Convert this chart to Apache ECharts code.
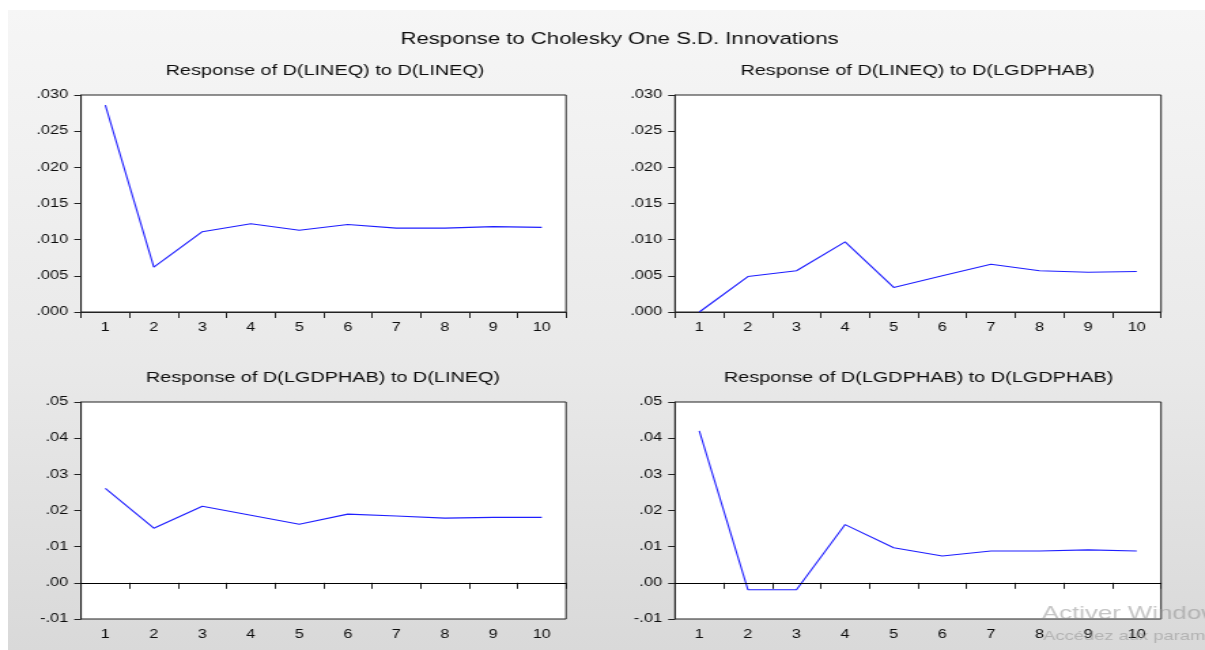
<!DOCTYPE html>
<html>
<head>
<meta charset="utf-8">
<script src="https://cdn.jsdelivr.net/npm/echarts@6/dist/echarts.min.js"></script>
<style>
  html, body { margin: 0; padding: 0; background: #fff; overflow: hidden; }
  #bg {
    position: absolute; left: 8px; top: 10px; right: 0; bottom: 0;
    background: linear-gradient(#f6f6f6, #e9e9e9 55%, #d9d9d9);
  }
  /* the source picture is stretched sideways, so draw narrow and scale x */
  #chart {
    position: absolute; left: 0; top: 0;
    width: 886px; height: 650px;
    transform: scaleX(1.36); transform-origin: 0 0;
  }
</style>
</head>
<body>
<div id="bg"></div>
<div id="chart"></div>
<script>
// periods after the shock
const periods = ['1', '2', '3', '4', '5', '6', '7', '8', '9', '10']

// responses
const lineqToLineq = [0.0286, 0.0062, 0.0111, 0.0122, 0.0113, 0.0121, 0.0116, 0.0116, 0.0118, 0.0117]
const lineqToLgdphab = [0.0000, 0.0049, 0.0057, 0.0097, 0.0034, 0.0050, 0.0066, 0.0057, 0.0055, 0.0056]
const lgdphabToLineq = [0.0261, 0.0151, 0.0212, 0.0187, 0.0162, 0.0190, 0.0185, 0.0179, 0.0181, 0.0181]
const lgdphabToLgdphab = [0.0420, -0.0019, -0.0019, 0.0161, 0.0097, 0.0074, 0.0088, 0.0088, 0.0091, 0.0088]

const mainTitle = 'Response to Cholesky One S.D. Innovations'
const panelTitles = [
  'Response of D(LINEQ) to D(LINEQ)',
  'Response of D(LINEQ) to D(LGDPHAB)',
  'Response of D(LGDPHAB) to D(LINEQ)',
  'Response of D(LGDPHAB) to D(LGDPHAB)'
]

// y axis [min, max, step, decimals]
const topAxis = [0, 0.03, 0.005, 3]
const bottomAxis = [-0.01, 0.05, 0.01, 2]

const font = "'Liberation Sans', Arial, sans-serif"
const ink = '#0d0d0d'

let chart = echarts.init(document.getElementById('chart'), null, { renderer: 'canvas' })

let panels = [
  { data: lineqToLineq, axis: topAxis, left: 59.6, top: 95, width: 356.6, tx: 239, ty: 71 },
  { data: lineqToLgdphab, axis: topAxis, left: 496.3, top: 95, width: 357.4, tx: 674.6, ty: 71 },
  { data: lgdphabToLineq, axis: bottomAxis, left: 59.6, top: 402, width: 356.6, tx: 237.5, ty: 378 },
  { data: lgdphabToLgdphab, axis: bottomAxis, left: 496.3, top: 402, width: 357.4, tx: 675.4, ty: 378 }
]

// EViews style labels: .030, -.01
function fmt (dec) {
  return v => v.toFixed(dec).replace(/^(-?)0\./, '$1.')
}

let grid = [], xAxis = [], yAxis = [], series = []
let graphic = [{
  type: 'text', x: 455.5, y: 39.5,
  style: { text: mainTitle, font: '16.3px ' + font, fill: ink, textAlign: 'center', textVerticalAlign: 'middle' }
}]

panels.forEach((p, i) => {
  grid.push({
    left: p.left, top: p.top, width: p.width, height: 217,
    show: true, backgroundColor: '#fff', borderColor: '#222', borderWidth: 1
  })
  xAxis.push({
    type: 'category', gridIndex: i, data: periods, boundaryGap: true,
    axisLine: { show: true, lineStyle: { color: '#222' } },
    axisTick: { show: true, length: 6, lineStyle: { color: '#222' } },
    axisLabel: { interval: 0, margin: 9.5, color: ink, fontSize: 12, fontFamily: font },
    splitLine: { show: false }
  })
  yAxis.push({
    type: 'value', gridIndex: i,
    min: p.axis[0], max: p.axis[1], interval: p.axis[2],
    axisLine: { show: true, lineStyle: { color: '#222' } },
    axisTick: { show: true, length: 5, lineStyle: { color: '#222' } },
    axisLabel: { margin: 9.5, color: ink, fontSize: 12, fontFamily: font, formatter: fmt(p.axis[3]) },
    splitLine: { show: false }
  })
  let s = {
    type: 'line', xAxisIndex: i, yAxisIndex: i, data: p.data,
    symbol: 'none', lineStyle: { color: '#1f1fff', width: 1.1 }
  }
  if (p.axis[0] < 0) {
    // zero line
    s.markLine = {
      silent: true, symbol: ['none', 'none'], label: { show: false },
      lineStyle: { color: '#000', type: 'solid', width: 1 },
      data: [{ yAxis: 0 }]
    }
  }
  series.push(s)
  graphic.push({
    type: 'text', x: p.tx, y: p.ty,
    style: { text: panelTitles[i], font: '14.6px ' + font, fill: ink, textAlign: 'center', textVerticalAlign: 'middle' }
  })
})

// windows activation watermark, clipped at the right edge
graphic.push({
  type: 'text', x: 766, y: 614, z: 100,
  style: { text: 'Activer Windows', font: '19px ' + font, fill: 'rgba(140,140,140,0.5)', textVerticalAlign: 'middle' }
})
graphic.push({
  type: 'text', x: 767, y: 636, z: 100,
  style: { text: 'Accédez aux paramètres pour activer Windows.', font: '13.5px ' + font, fill: 'rgba(140,140,140,0.5)', textVerticalAlign: 'middle' }
})

chart.setOption({
  backgroundColor: 'transparent',
  animation: false,
  grid: grid,
  xAxis: xAxis,
  yAxis: yAxis,
  series: series,
  graphic: graphic
})
</script>
</body>
</html>
